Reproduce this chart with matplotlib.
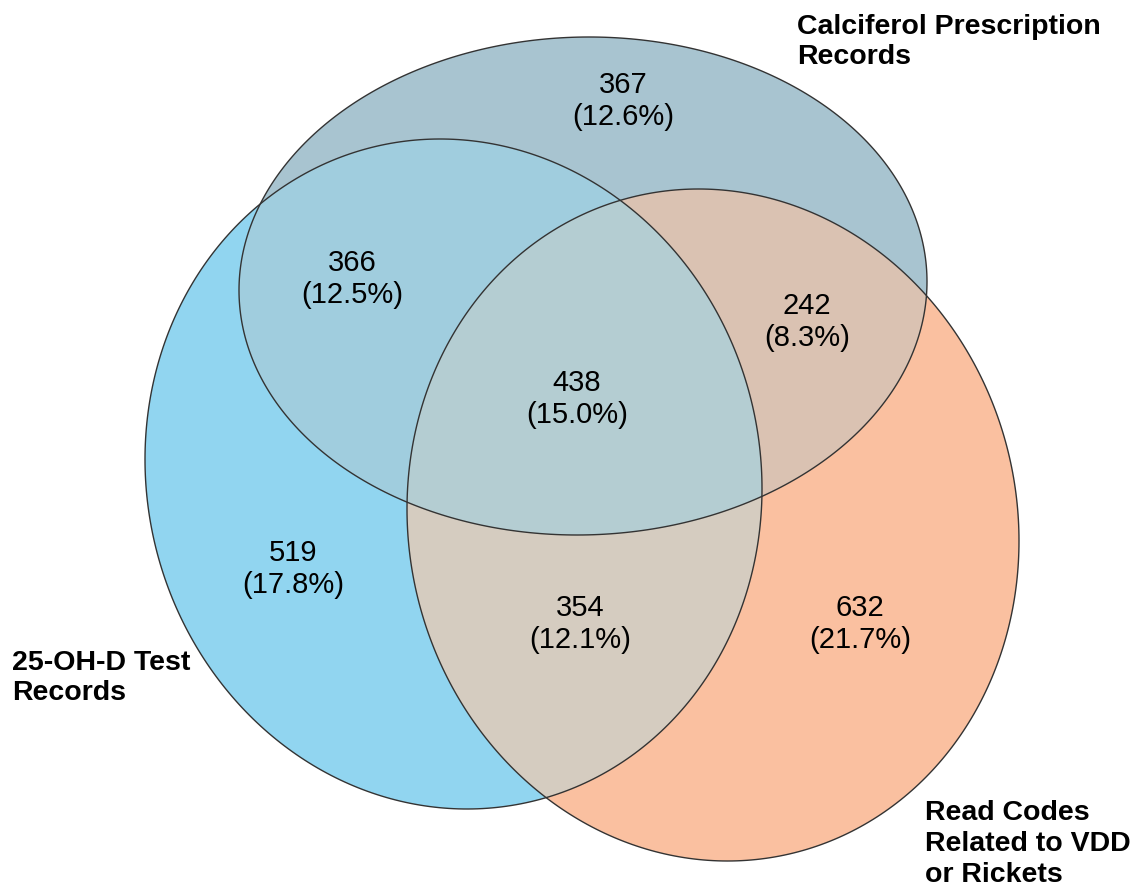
import numpy as np
import matplotlib
matplotlib.use("Agg")
import matplotlib.pyplot as plt
from matplotlib.patches import Polygon

# ---- data ----
set_labels = ["25-OH-D Test\nRecords",
              "Calciferol Prescription\nRecords",
              "Read Codes\nRelated to VDD\nor Rickets"]
# region counts: membership (test, calciferol, readcodes)
only_test = 519
only_calc = 367
only_read = 632
test_calc = 366
calc_read = 242
test_read = 354
all_three = 438

counts = [only_test, only_calc, only_read, test_calc, calc_read, test_read, all_three]
total = sum(counts)

plt.rcParams['font.family'] = ['Liberation Sans', 'DejaVu Sans']

W, H = 1141, 892
fig = plt.figure(figsize=(W / 100, H / 100), dpi=100)
ax = fig.add_axes([0, 0, 1, 1])
ax.set_xlim(0, W)
ax.set_ylim(H, 0)
ax.axis('off')


def ellipse_pts(cx, cy, hw, hh, top_dx, n=1000):
    mxy = -top_dx * hh
    M = np.array([[hw ** 2, mxy], [mxy, hh ** 2]])
    L = np.linalg.cholesky(M)
    t = np.linspace(0, 2 * np.pi, n, endpoint=False)
    u = np.vstack([np.cos(t), np.sin(t)])
    return (L @ u).T + np.array([cx, cy])


def area_sign(poly):
    x, y = poly[:, 0], poly[:, 1]
    return np.sign(np.sum(x * np.roll(y, -1) - np.roll(x, -1) * y))


def clip(subject, clipper):
    s = area_sign(clipper)
    out = list(subject)
    n = len(clipper)
    for i in range(n):
        a = clipper[i]
        b = clipper[(i + 1) % n]
        inp = out
        out = []
        if not inp:
            break

        def inside(p):
            return s * ((b[0] - a[0]) * (p[1] - a[1]) - (b[1] - a[1]) * (p[0] - a[0])) >= 0

        def inter(p, q):
            d1 = np.array(q) - np.array(p)
            d2 = b - a
            den = d1[0] * d2[1] - d1[1] * d2[0]
            tt = ((a[0] - p[0]) * d2[1] - (a[1] - p[1]) * d2[0]) / den
            return np.array(p) + tt * d1

        prev = inp[-1]
        for cur in inp:
            if inside(cur):
                if not inside(prev):
                    out.append(inter(prev, cur))
                out.append(cur)
            elif inside(prev):
                out.append(inter(prev, cur))
            prev = cur
    return np.array(out)


E_test = ellipse_pts(453.5, 474, 308.5, 335, -13.5, 400)
E_calc = ellipse_pts(583, 286, 344, 249, 6, 400)
E_read = ellipse_pts(713, 525, 306, 336, -14.5, 400)

c_test = "#91D5F0"
c_calc = "#A8C4D0"
c_read = "#FAC0A0"
c_tc = "#A0CDDE"
c_cr = "#DAC2B2"
c_tr = "#D5CCC0"
c_all = "#B4CDD2"

for P, c in [(E_test, c_test), (E_read, c_read), (E_calc, c_calc)]:
    ax.add_patch(Polygon(P, closed=True, facecolor=c, edgecolor='none', zorder=1))

tc = clip(E_test, E_calc)
cr = clip(E_calc, E_read)
tr = clip(E_test, E_read)
tcr = clip(tc, E_read)
for P, c in [(tc, c_tc), (cr, c_cr), (tr, c_tr), (tcr, c_all)]:
    ax.add_patch(Polygon(P, closed=True, facecolor=c, edgecolor='none', zorder=2))

for P in [E_test, E_calc, E_read]:
    ax.add_patch(Polygon(P, closed=True, facecolor='none', edgecolor='#333333',
                         linewidth=1.0, zorder=3))

# region label positions (pixel coords)
pos = [(293, 569), (623, 101), (860, 624), (352, 279), (807, 322), (580, 624), (577, 399)]
for (x, y), v in zip(pos, counts):
    ax.text(x, y, f"{v}\n({100 * v / total:.1f}%)", ha='center', va='center',
            fontsize=21, linespacing=1.15, color='black', zorder=4)

lab_kw = dict(ha='left', va='center', fontsize=20.5, fontweight='bold',
              linespacing=1.24, zorder=4)
ax.text(12, 678, set_labels[0], **lab_kw)
ax.text(797, 42, set_labels[1], **lab_kw)
ax.text(925, 844, set_labels[2], **lab_kw)

fig.savefig("out.png", dpi=100)
